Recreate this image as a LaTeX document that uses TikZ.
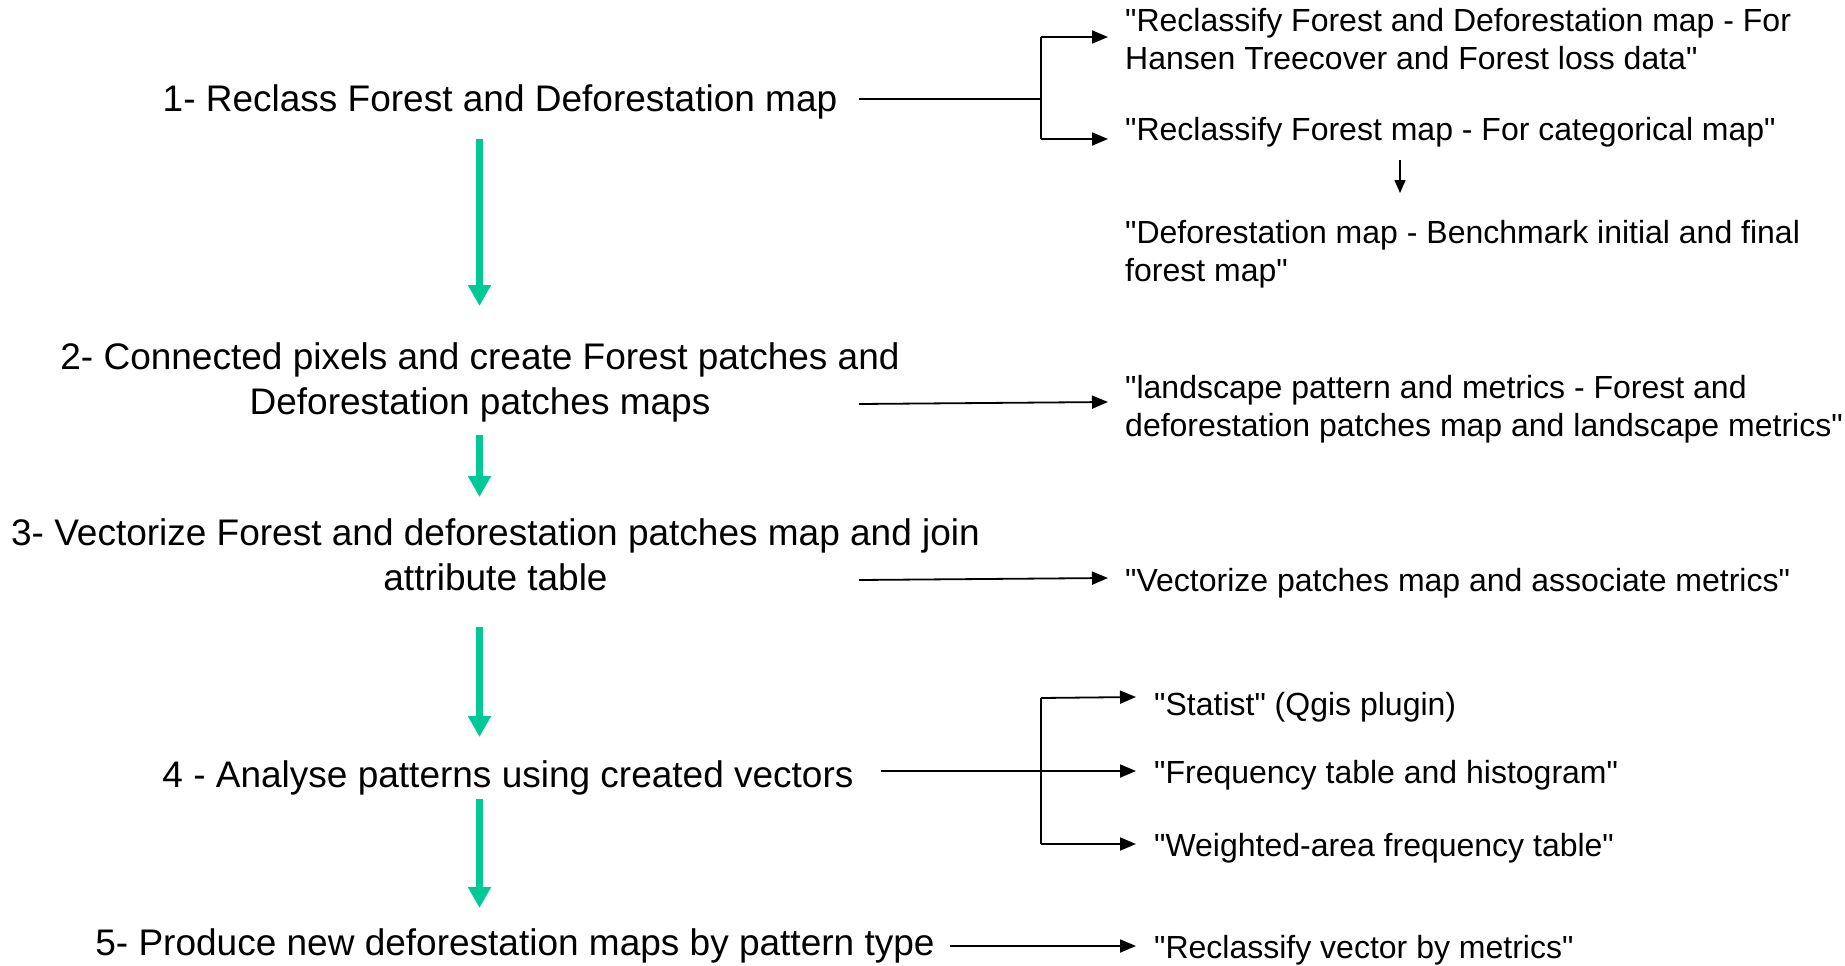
\documentclass[tikz,border=0pt]{standalone}
\usepackage{fontspec}
\setmainfont{Liberation Sans}[Ligatures=TeXOff]
\usetikzlibrary{arrows.meta}
\definecolor{flowgreen}{RGB}{0,201,149}
\tikzset{
  stepnode/.style={inner sep=0pt, align=center, anchor=base, font=\fontsize{37}{45}\selectfont},
  outnode/.style={inner sep=0pt, align=left, anchor=base west, font=\fontsize{32}{38}\selectfont},
  greenarrow/.style={draw=flowgreen, line width=7pt, -{Triangle[length=21pt,width=22pt]}},
  blackline/.style={draw=black, line width=1.8pt},
  blackarrow/.style={draw=black, line width=1.8pt, -{Triangle[length=16pt,width=13pt]}},
  smallarrow/.style={draw=black, line width=1.5pt, -{Triangle[length=13pt,width=11pt]}}
}
\begin{document}
\begin{tikzpicture}[x=1pt,y=1pt]
\useasboundingbox (0,0) rectangle (1845,-966);
% steps (base anchor = baseline of last line)
\node[stepnode] (s1) at (500,-111) {1- Reclass Forest and Deforestation map};
\node[stepnode] (s2) at (480,-414) {2- Connected pixels and create Forest patches and\\Deforestation patches maps};
\node[stepnode] (s3) at (495.5,-590) {3- Vectorize Forest and deforestation patches map and join\\attribute table};
\node[stepnode] (s4) at (508,-787) {4 - Analyse patterns using created vectors};
\node[stepnode] (s5) at (515,-955) {5- Produce new deforestation maps by pattern type};
% outputs
\node[outnode] (r1a) at (1125,-70) {"Reclassify Forest and Deforestation map - For\\Hansen Treecover and Forest loss data"};
\node[outnode] (r1b) at (1125,-140) {"Reclassify Forest map - For categorical map"};
\node[outnode] (r1c) at (1125,-281) {"Deforestation map - Benchmark initial and final\\forest map"};
\node[outnode] (r2) at (1125,-436) {"landscape pattern and metrics - Forest and\\deforestation patches map and landscape metrics"};
\node[outnode] (r3) at (1125,-591) {"Vectorize patches map and associate metrics"};
\node[outnode] (r4a) at (1154,-715) {"Statist" (Qgis plugin)};
\node[outnode] (r4b) at (1154,-783) {"Frequency table and histogram"};
\node[outnode] (r4c) at (1154,-856) {"Weighted-area frequency table"};
\node[outnode] (r5) at (1154,-958) {"Reclassify vector by metrics"};
% green flow arrows
\coordinate (g1a) at (479.5,-139); \coordinate (g1b) at (479.5,-306);
\coordinate (g2a) at (479.5,-435); \coordinate (g2b) at (479.5,-497);
\coordinate (g3a) at (479.5,-627); \coordinate (g3b) at (479.5,-737);
\coordinate (g4a) at (479.5,-799); \coordinate (g4b) at (479.5,-908);
\draw[greenarrow] (g1a) -- (g1b);
\draw[greenarrow] (g2a) -- (g2b);
\draw[greenarrow] (g3a) -- (g3b);
\draw[greenarrow] (g4a) -- (g4b);
% step 1 bracket
\coordinate (o1) at (859,-99);
\coordinate (b1) at (1041,-99);
\coordinate (b1t) at (1041,-37);
\coordinate (b1b) at (1041,-139);
\coordinate (t1a) at (1108,-37);
\coordinate (t1b) at (1108,-139);
\draw[blackline] (o1) -- (b1);
\draw[blackline] (b1t) -- (b1b);
\draw[blackarrow] (b1t) -- (t1a);
\draw[blackarrow] (b1b) -- (t1b);
% small arrow
\coordinate (sa) at (1400,-160);
\coordinate (sb) at (1400,-193);
\draw[smallarrow] (sa) -- (sb);
% step 2 and 3
\coordinate (o2) at (859,-404); \coordinate (t2) at (1108,-402);
\draw[blackarrow] (o2) -- (t2);
\coordinate (o3) at (859,-580); \coordinate (t3) at (1108,-578);
\draw[blackarrow] (o3) -- (t3);
% step 4 bracket
\coordinate (o4) at (881,-771);
\coordinate (b4t) at (1041,-698);
\coordinate (b4b) at (1041,-844);
\coordinate (t4a) at (1136,-697);
\coordinate (t4b) at (1136,-771);
\coordinate (t4c) at (1136,-844);
\draw[blackline] (b4t) -- (b4b);
\draw[blackarrow] (o4) -- (t4b);
\draw[blackarrow] (b4t) -- (t4a);
\draw[blackarrow] (b4b) -- (t4c);
% step 5
\coordinate (o5) at (950,-946); \coordinate (t5) at (1136,-946);
\draw[blackarrow] (o5) -- (t5);
\end{tikzpicture}
\end{document}
